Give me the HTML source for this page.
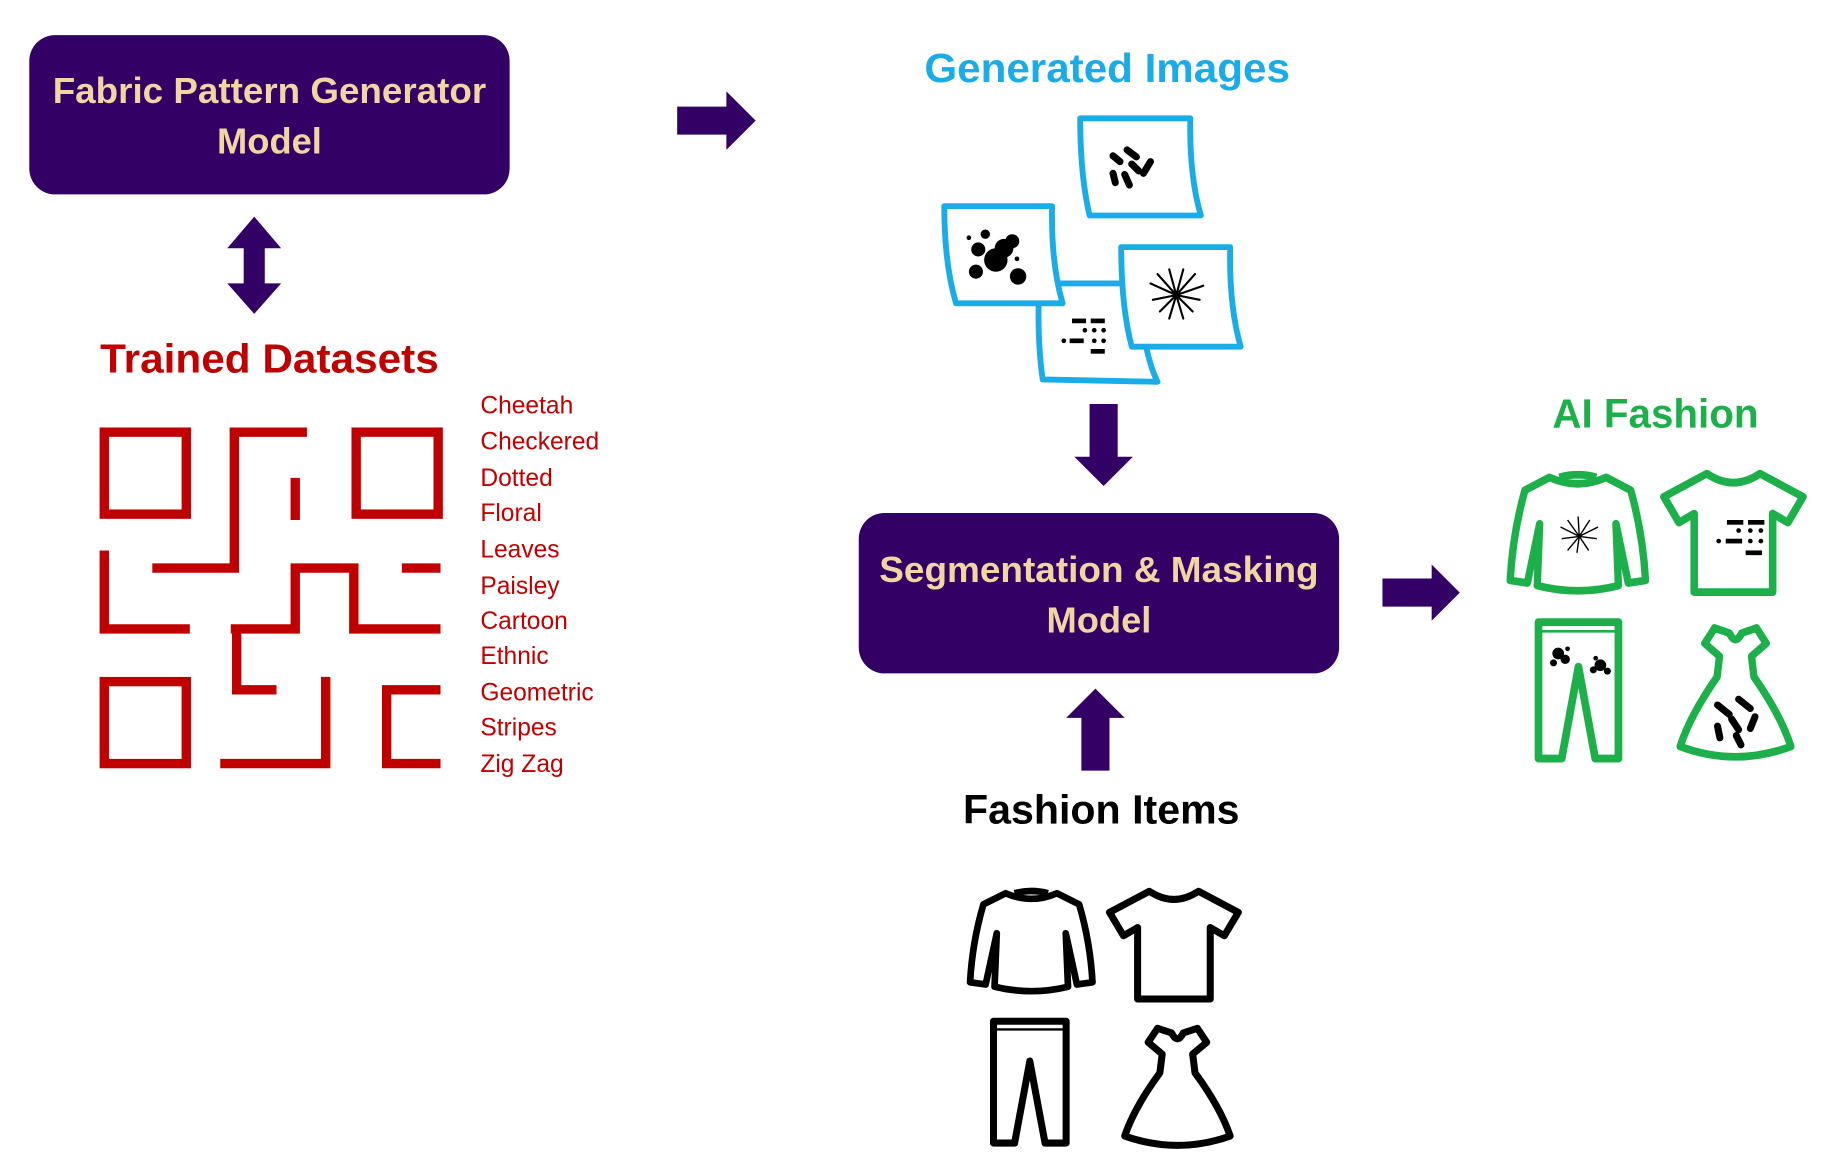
<!DOCTYPE html>
<html><head><meta charset="utf-8"><style>
html,body{margin:0;padding:0;background:#fff;}
svg{display:block}
text{font-family:"Liberation Sans",sans-serif;font-weight:bold;}
text.n{font-weight:normal;}
</style></head><body>
<svg width="1830" height="1170" viewBox="0 0 1562 999" preserveAspectRatio="none" xmlns="http://www.w3.org/2000/svg">
<defs>
<g id="sweater" fill="none" stroke-width="6" stroke-linejoin="round">
<path d="M32,6 Q55,16 78,6 L98,16 Q108,50 110,86 L96,88 L86,42 L88,90 Q55,98 22,90 L24,42 L14,88 L0,86 Q2,50 12,16 Z"/>
<path d="M40,6 Q55,2 70,6"/>
</g>
<g id="tshirt" fill="none" stroke-width="6" stroke-linejoin="round">
<path d="M36,4 Q57,18 78,4 L112,22 L100,42 L88,35 L88,96 L26,96 L26,35 L14,42 L2,22 Z"/>
</g>
<g id="pants" fill="none" stroke-width="6" stroke-linejoin="round">
<path d="M2,2 L64,2 L64,106 L46,106 L33,36 L20,106 L2,106 Z"/>
<path d="M4,9 L62,9" stroke-width="2"/>
</g>
<g id="dress" fill="none" stroke-width="6" stroke-linejoin="round">
<path d="M30,2 L42,6 Q47,16 52,6 L64,2 L72,14 L60,24 L62,40 Q84,70 92,94 Q47,110 2,94 Q10,70 32,40 L34,24 L22,14 Z"/>
</g>
</defs>

<rect x="25" y="30" width="410" height="136" rx="22" fill="#330066"/>
<text x="230" y="88" font-size="31" fill="#F2D6A2" text-anchor="middle" textLength="370" lengthAdjust="spacingAndGlyphs">Fabric Pattern Generator</text>
<text x="230" y="131" font-size="31" fill="#F2D6A2" text-anchor="middle">Model</text>

<path d="M217,185 L240,212 L226,212 L226,242 L240,242 L217,268 L194,242 L208,242 L208,212 L194,212 Z" fill="#330066"/>

<text x="230" y="318" font-size="35" fill="#C00000" text-anchor="middle" textLength="289" lengthAdjust="spacingAndGlyphs">Trained Datasets</text>

<g fill="none" stroke="#C00000" stroke-width="8">
<rect x="89" y="369" width="70" height="70"/>
<rect x="304" y="369" width="70" height="70"/>
<rect x="89" y="582" width="70" height="70"/>
<path d="M262,369 L200,369 L200,485 L130,485"/>
<path d="M252,408 L252,444"/>
<path d="M89,470 L89,537 L162,537"/>
<path d="M197,537 L252,537 L252,485 L302,485 L302,537 L376,537"/>
<path d="M343,485 L376,485"/>
<path d="M202,537 L202,589 L236,589"/>
<path d="M188,652 L278,652 L278,578"/>
<path d="M376,589 L330,589 L330,652 L376,652"/>
</g>
<g font-size="21" fill="#C00000">
<text class="n" x="410" y="353">Cheetah</text>
<text class="n" x="410" y="384">Checkered</text>
<text class="n" x="410" y="415">Dotted</text>
<text class="n" x="410" y="445">Floral</text>
<text class="n" x="410" y="476">Leaves</text>
<text class="n" x="410" y="507">Paisley</text>
<text class="n" x="410" y="537">Cartoon</text>
<text class="n" x="410" y="567">Ethnic</text>
<text class="n" x="410" y="598">Geometric</text>
<text class="n" x="410" y="628">Stripes</text>
<text class="n" x="410" y="659">Zig Zag</text>
</g>

<path d="M578,91 L620,91 L620,78 L645,103 L620,128 L620,115 L578,115 Z" fill="#330066"/>

<text x="945" y="70" font-size="35" fill="#1AACE6" text-anchor="middle" textLength="312" lengthAdjust="spacingAndGlyphs">Generated Images</text>

<g fill="#fff" stroke="#1AACE6" stroke-width="5" stroke-linejoin="round">
<path d="M887,242 L972,242 Q975,300 988,326 L890,324 Q885,290 887,242 Z"/>
<path d="M922,101 L1016,101 Q1015,150 1025,184 L930,184 Q922,150 922,101 Z"/>
<path d="M806,176 L898,176 Q897,225 907,259 L816,259 Q806,225 806,176 Z"/>
<path d="M957,211 L1050,211 Q1049,262 1059,296 L966,296 Q957,262 957,211 Z"/>
</g>
<g fill="#000">
<circle cx="850" cy="222" r="10"/><circle cx="857" cy="212" r="8"/><circle cx="835" cy="213" r="6"/><circle cx="864" cy="206" r="6"/>
<circle cx="833" cy="232" r="6"/><circle cx="869" cy="236" r="7"/><circle cx="841" cy="200" r="4"/><circle cx="827" cy="203" r="2"/><circle cx="868" cy="221" r="2"/>
<g stroke="#000" stroke-width="6" stroke-linecap="round">
<path d="M950,133 L956,138"/><path d="M962,128 L970,134"/><path d="M966,140 L972,146"/><path d="M960,149 L964,158"/><path d="M976,148 L982,138"/><path d="M950,148 L952,156"/>
</g>
<rect x="915" y="272" width="12" height="4"/><rect x="931" y="272" width="12" height="4"/>
<circle cx="926" cy="282" r="2"/><circle cx="934" cy="282" r="2"/><circle cx="942" cy="282" r="2"/>
<circle cx="908" cy="291" r="2"/><rect x="913" y="289" width="12" height="4"/><circle cx="934" cy="291" r="2"/><circle cx="942" cy="291" r="2"/>
<rect x="931" y="298" width="12" height="4"/>
</g>
<g stroke="#000" stroke-width="1.8" fill="none" stroke-linecap="round">
<path d="M1004,252 L982,242 M1004,252 L988,234 M1004,252 L998,230 M1004,252 L1010,230 M1004,252 L1020,234 M1004,252 L1027,244 M1004,252 L990,266 M1004,252 L998,272 M1004,252 L1010,272 M1004,252 L1018,266 M1004,252 L984,256 M1004,252 L1024,256"/>
</g>

<path d="M930,345 L954,345 L954,390 L967,390 L942,415 L917,390 L930,390 Z" fill="#330066"/>

<rect x="733" y="438" width="410" height="137" rx="22" fill="#330066"/>
<text x="938" y="497" font-size="31" fill="#F2D6A2" text-anchor="middle" textLength="375" lengthAdjust="spacingAndGlyphs">Segmentation &amp; Masking</text>
<text x="938" y="540" font-size="31" fill="#F2D6A2" text-anchor="middle">Model</text>

<path d="M923,658 L947,658 L947,613 L960,613 L935,588 L910,613 L923,613 Z" fill="#330066"/>

<text x="940" y="703" font-size="35" fill="#000" text-anchor="middle" textLength="236" lengthAdjust="spacingAndGlyphs">Fashion Items</text>

<path d="M1180,494 L1222,494 L1222,482 L1246,506 L1222,530 L1222,518 L1180,518 Z" fill="#330066"/>

<text x="1413" y="365" font-size="35" fill="#1DB04A" text-anchor="middle" textLength="176" lengthAdjust="spacingAndGlyphs">AI Fashion</text>

<g stroke="#000">
<use href="#sweater" transform="translate(828,757) scale(0.95)"/>
<use href="#tshirt" transform="translate(945,757)"/>
<use href="#pants" transform="translate(846,870)"/>
<use href="#dress" transform="translate(958,876)"/>
</g>
<g stroke="#1DB04A">
<use href="#sweater" transform="translate(1289,401) scale(1.05,1.1)"/>
<use href="#tshirt" transform="translate(1418,400) scale(1.08,1.1)"/>
<use href="#pants" transform="translate(1311,529) scale(1.1,1.12)"/>
<use href="#dress" transform="translate(1432,534) scale(1.05,1.1)"/>
</g>
<g stroke="#000" stroke-width="1.2" fill="none">
<path d="M1348,458 L1332,450 M1348,458 L1338,444 M1348,458 L1347,441 M1348,458 L1357,444 M1348,458 L1364,450 M1348,458 L1338,470 M1348,458 L1346,472 M1348,458 L1356,470 M1348,458 L1333,460 M1348,458 L1363,460"/>
</g>
<g fill="#000">
<rect x="1474" y="444" width="14" height="4"/><rect x="1492" y="444" width="14" height="4"/>
<circle cx="1484" cy="453" r="2"/><circle cx="1494" cy="453" r="2"/><circle cx="1503" cy="453" r="2"/>
<circle cx="1467" cy="462" r="2"/><rect x="1473" y="460" width="14" height="4"/><circle cx="1494" cy="462" r="2"/><circle cx="1503" cy="462" r="2"/>
<rect x="1490" y="470" width="14" height="4"/>
<circle cx="1330" cy="558" r="5"/><circle cx="1336" cy="563" r="4"/><circle cx="1326" cy="566" r="3"/><circle cx="1338" cy="554" r="2"/>
<circle cx="1366" cy="568" r="5"/><circle cx="1372" cy="573" r="3"/><circle cx="1360" cy="572" r="3"/><circle cx="1362" cy="562" r="2"/>
</g>
<g stroke="#000" stroke-width="6" stroke-linecap="round">
<path d="M1466,602 L1476,610"/><path d="M1484,597 L1494,605"/><path d="M1478,614 L1484,623"/><path d="M1498,612 L1494,622"/><path d="M1466,620 L1468,630"/><path d="M1482,628 L1486,636"/>
</g>
</svg>
</body></html>
